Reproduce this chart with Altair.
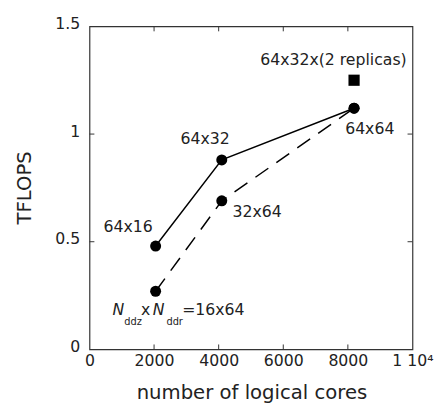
import altair as alt
import pandas as pd

# data
cores = [2048, 4096, 8192]
tflops_solid = [0.48, 0.88, 1.12]
tflops_dashed = [0.27, 0.69, 1.12]
labels_solid = ["64x16", "64x32", "64x64"]
labels_dashed = ["16x64", "32x64", "64x64"]
replica_cores = [8192]
replica_tflops = [1.25]
replica_label = ["64x32x(2 replicas)"]
x_ticks = [2000, 4000, 6000, 8000]
y_ticks = [0.5, 1.0]

FONT = "DejaVu Sans"
W, H = 329, 329

solid = pd.DataFrame({"cores": cores, "tflops": tflops_solid, "label": labels_solid})
dashed = pd.DataFrame({"cores": cores, "tflops": tflops_dashed, "label": labels_dashed})
rep = pd.DataFrame({"cores": replica_cores, "tflops": replica_tflops, "label": replica_label})
xt = pd.DataFrame({"v": x_ticks})
yt = pd.DataFrame({"v": y_ticks})

xs = alt.Scale(domain=[0, 10000], nice=False, zero=False)
ys = alt.Scale(domain=[0, 1.5], nice=False, zero=False)

xaxis = alt.Axis(values=[0, 2000, 4000, 6000, 8000, 10000], ticks=False, domain=False,
                 grid=False, labelFont=FONT, labelFontSize=16, labelColor="#222",
                 labelPadding=3, labelFlush=False, labelOverlap=False,
                 labelExpr="datum.value == 10000 ? '1 10\u2074' : format(datum.value, 'd')",
                 title="number of logical cores", titleFont=FONT, titleFontSize=20,
                 titleFontWeight="normal", titleColor="#222", titleX=165, titleY=50,
                 titleBaseline="alphabetic")
yaxis = alt.Axis(values=[0, 0.5, 1, 1.5], ticks=False, domain=False, grid=False,
                 labelFont=FONT, labelFontSize=16, labelColor="#222", labelPadding=10,
                 labelFlush=False, labelOverlap=False, labelOffset=-3, format="~g",
                 title="TFLOPS", titleFont=FONT, titleFontSize=20, titleFontWeight="normal",
                 titleColor="#222", titleX=-66, titleY=164, titleAngle=-90,
                 titleAlign="center", titleBaseline="middle")

base_x = alt.X("cores:Q", scale=xs, axis=xaxis)
base_y = alt.Y("tflops:Q", scale=ys, axis=yaxis)

line_solid = alt.Chart(solid).mark_line(color="black", strokeWidth=1.5).encode(x=base_x, y=base_y)
line_dashed = alt.Chart(dashed).mark_line(color="black", strokeWidth=1.5, strokeDash=[16, 10]).encode(
    x=alt.X("cores:Q", scale=xs), y=alt.Y("tflops:Q", scale=ys))
pts_solid = alt.Chart(solid).mark_point(shape="circle", filled=True, color="black", size=125, opacity=1).encode(
    x=alt.X("cores:Q", scale=xs), y=alt.Y("tflops:Q", scale=ys))
pts_dashed = alt.Chart(dashed).mark_point(shape="circle", filled=True, color="black", size=125, opacity=1).encode(
    x=alt.X("cores:Q", scale=xs), y=alt.Y("tflops:Q", scale=ys))
pts_rep = alt.Chart(rep).mark_point(shape="square", filled=True, color="black", size=130, opacity=1).encode(
    x=alt.X("cores:Q", scale=xs), y=alt.Y("tflops:Q", scale=ys))


def label_layer(df, text, dx, dy, size=16, align="center", baseline="middle", style="normal", field=None):
    d = df[df["label"] == text] if field is None else df
    return alt.Chart(d).mark_text(font=FONT, fontSize=size, color="#222", dx=dx, dy=dy, align=align,
                                  baseline=baseline, fontStyle=style).encode(
        x=alt.X("cores:Q", scale=xs), y=alt.Y("tflops:Q", scale=ys), text=alt.value(text))


sub_pt = dashed[dashed["label"] == "16x64"]
labels = [
    label_layer(solid, "64x16", -28, -19),
    label_layer(solid, "64x32", -17, -21),
    label_layer(solid, "64x64", 16, 21),
    label_layer(dashed, "32x64", 36, 11),
    label_layer(rep, "64x32x(2 replicas)", -21, -21),
    label_layer(sub_pt, "N", -44, 24, align="left", baseline="alphabetic", style="italic", field=1),
    label_layer(sub_pt, "ddz", -32, 34, size=10, align="left", baseline="alphabetic", field=1),
    label_layer(sub_pt, "x", -15, 24, align="left", baseline="alphabetic", field=1),
    label_layer(sub_pt, "N", -3, 24, align="left", baseline="alphabetic", style="italic", field=1),
    label_layer(sub_pt, "ddr", 11, 34, size=10, align="left", baseline="alphabetic", field=1),
    label_layer(sub_pt, "=16x64", 27, 24, align="left", baseline="alphabetic", field=1),
]

tk = dict(color="#333", strokeWidth=1)
ticks = [
    alt.Chart(xt).mark_rule(**tk).encode(x=alt.X("v:Q", scale=xs), y=alt.value(H), y2=alt.value(H - 5)),
    alt.Chart(xt).mark_rule(**tk).encode(x=alt.X("v:Q", scale=xs), y=alt.value(0), y2=alt.value(5)),
    alt.Chart(yt).mark_rule(**tk).encode(y=alt.Y("v:Q", scale=ys), x=alt.value(0), x2=alt.value(5)),
    alt.Chart(yt).mark_rule(**tk).encode(y=alt.Y("v:Q", scale=ys), x=alt.value(W), x2=alt.value(W - 5)),
]

chart = alt.layer(line_solid, line_dashed, pts_solid, pts_dashed, pts_rep, *labels, *ticks).properties(
    width=W, height=H,
    autosize=alt.AutoSizeParams(type="none"),
    padding={"left": 83, "top": 15, "right": 25, "bottom": 58},
    background="white",
).configure_view(stroke="#333", strokeWidth=1.2)

chart.save("out.html", embed_options={"renderer": "svg", "actions": False})
